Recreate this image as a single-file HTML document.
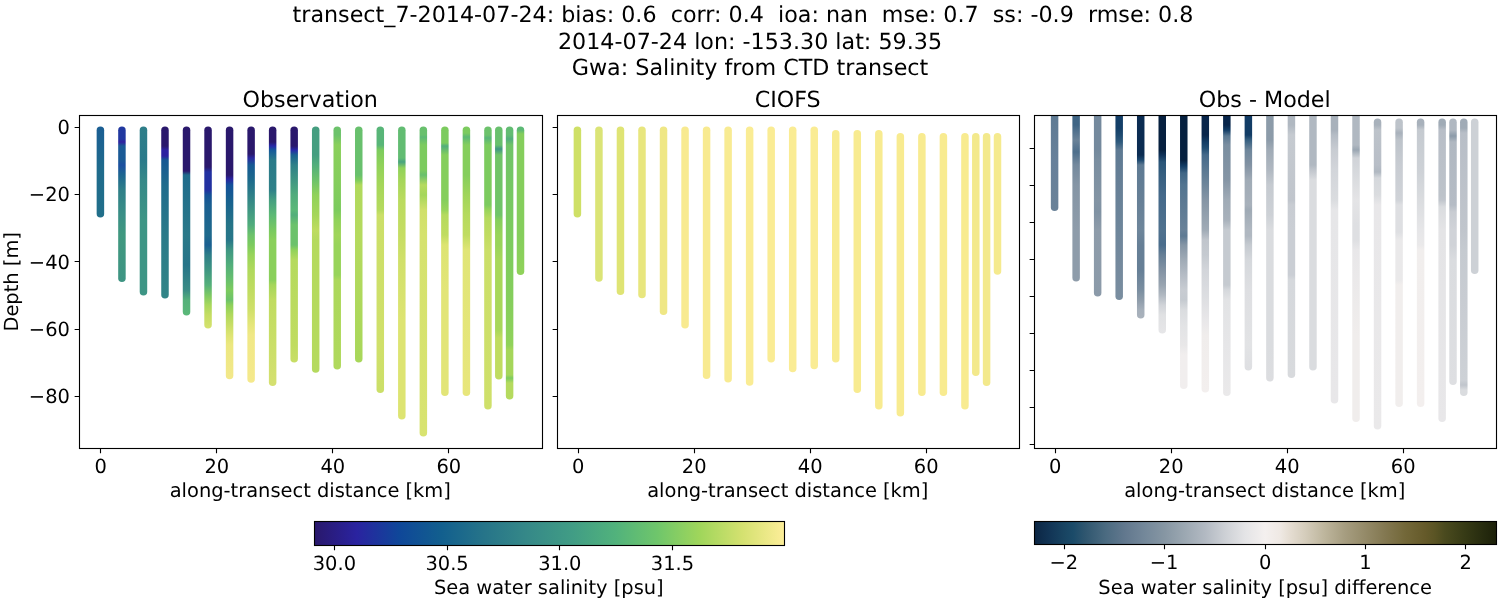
<!DOCTYPE html>
<html lang="en">
<head>
<meta charset="utf-8">
<title>transect_7-2014-07-24 Gwa: Salinity from CTD transect</title>
<style>
html,body{margin:0;padding:0;background:#fff;}
body{width:1500px;height:600px;overflow:hidden;}
svg{display:block;will-change:transform;}
svg text{font-family:"DejaVu Sans","Liberation Sans",sans-serif;fill:#000;text-rendering:geometricPrecision;}
</style>
</head>
<body>
<svg width="1500" height="600" viewBox="0 0 1500 600">
<defs>
<clipPath id="clip0"><rect x="79.5" y="115.5" width="463" height="333"/></clipPath>
<linearGradient id="g0_0" gradientUnits="userSpaceOnUse" x1="0" y1="126.6" x2="0" y2="217.6"><stop offset="0.0044" stop-color="#1A5E93"/><stop offset="0.4769" stop-color="#1F6B8C"/><stop offset="0.9934" stop-color="#216F8A"/></linearGradient>
<linearGradient id="g0_1" gradientUnits="userSpaceOnUse" x1="0" y1="126.6" x2="0" y2="282"><stop offset="0.0026" stop-color="#2138A0"/><stop offset="0.0798" stop-color="#2138A0"/><stop offset="0.0991" stop-color="#3020A0"/><stop offset="0.1248" stop-color="#1A5A96"/><stop offset="0.2149" stop-color="#1A5A96"/><stop offset="0.2471" stop-color="#1C4FA0"/><stop offset="0.3115" stop-color="#1D6690"/><stop offset="0.408" stop-color="#2F7F88"/><stop offset="0.5689" stop-color="#3A8F86"/><stop offset="0.6976" stop-color="#40987F"/><stop offset="1" stop-color="#3E9483"/></linearGradient>
<linearGradient id="g0_2" gradientUnits="userSpaceOnUse" x1="0" y1="126.6" x2="0" y2="295.4"><stop offset="0.0024" stop-color="#2E7E89"/><stop offset="0.1979" stop-color="#2A7A8A"/><stop offset="0.3164" stop-color="#358888"/><stop offset="0.5533" stop-color="#3D9585"/><stop offset="0.9976" stop-color="#3D9585"/></linearGradient>
<linearGradient id="g0_3" gradientUnits="userSpaceOnUse" x1="0" y1="126.6" x2="0" y2="298.6"><stop offset="0.0023" stop-color="#2A186C"/><stop offset="0.1128" stop-color="#2A186C"/><stop offset="0.136" stop-color="#2D22A0"/><stop offset="0.1709" stop-color="#2D22A0"/><stop offset="0.1942" stop-color="#165893"/><stop offset="0.3395" stop-color="#1F6B8C"/><stop offset="0.6302" stop-color="#2A7A89"/><stop offset="0.9965" stop-color="#328587"/></linearGradient>
<linearGradient id="g0_4" gradientUnits="userSpaceOnUse" x1="0" y1="126.6" x2="0" y2="315.4"><stop offset="0.0021" stop-color="#2A186C"/><stop offset="0.2352" stop-color="#2A186C"/><stop offset="0.2564" stop-color="#1F6B8C"/><stop offset="0.5742" stop-color="#2A7989"/><stop offset="0.7331" stop-color="#267488"/><stop offset="0.8655" stop-color="#3A8C85"/><stop offset="0.9184" stop-color="#55B07A"/><stop offset="0.9979" stop-color="#5AB878"/></linearGradient>
<linearGradient id="g0_5" gradientUnits="userSpaceOnUse" x1="0" y1="126.6" x2="0" y2="328.6"><stop offset="0.002" stop-color="#2A186C"/><stop offset="0.2" stop-color="#2A186C"/><stop offset="0.2248" stop-color="#2230A0"/><stop offset="0.3139" stop-color="#2230A0"/><stop offset="0.3386" stop-color="#145096"/><stop offset="0.3881" stop-color="#1A5F91"/><stop offset="0.5366" stop-color="#1F6A8C"/><stop offset="0.5861" stop-color="#1A5F91"/><stop offset="0.6356" stop-color="#2E7E88"/><stop offset="0.7099" stop-color="#3F9682"/><stop offset="0.7842" stop-color="#55B07A"/><stop offset="0.8337" stop-color="#7CC863"/><stop offset="0.8832" stop-color="#A8D85C"/><stop offset="0.9327" stop-color="#C5DD62"/><stop offset="0.997" stop-color="#D5E26E"/></linearGradient>
<linearGradient id="g0_6" gradientUnits="userSpaceOnUse" x1="0" y1="126.6" x2="0" y2="379.2"><stop offset="0.0016" stop-color="#2A186C"/><stop offset="0.1916" stop-color="#2A186C"/><stop offset="0.2074" stop-color="#2A22A0"/><stop offset="0.2312" stop-color="#13509A"/><stop offset="0.2906" stop-color="#17608F"/><stop offset="0.3895" stop-color="#257487"/><stop offset="0.4489" stop-color="#277689"/><stop offset="0.4885" stop-color="#3F9683"/><stop offset="0.5479" stop-color="#52AE7B"/><stop offset="0.6073" stop-color="#68C06D"/><stop offset="0.6469" stop-color="#7CCB5E"/><stop offset="0.6865" stop-color="#6CC26B"/><stop offset="0.7063" stop-color="#8CD05A"/><stop offset="0.7458" stop-color="#B0D95C"/><stop offset="0.7854" stop-color="#C8DE66"/><stop offset="0.825" stop-color="#DDE472"/><stop offset="0.8646" stop-color="#ECE780"/><stop offset="0.9992" stop-color="#F3E88A"/></linearGradient>
<linearGradient id="g0_7" gradientUnits="userSpaceOnUse" x1="0" y1="126.6" x2="0" y2="382.8"><stop offset="0.0016" stop-color="#2A186C"/><stop offset="0.1069" stop-color="#2A186C"/><stop offset="0.1226" stop-color="#2A28A0"/><stop offset="0.1499" stop-color="#165993"/><stop offset="0.2084" stop-color="#1D6A8C"/><stop offset="0.267" stop-color="#2E7F88"/><stop offset="0.3255" stop-color="#3F9683"/><stop offset="0.3841" stop-color="#50AC7C"/><stop offset="0.4231" stop-color="#6CC26B"/><stop offset="0.4621" stop-color="#7CCB5E"/><stop offset="0.5012" stop-color="#98D45A"/><stop offset="0.5597" stop-color="#B0D95C"/><stop offset="0.6378" stop-color="#C0DC60"/><stop offset="0.7158" stop-color="#D0E06A"/><stop offset="0.7744" stop-color="#E5E67A"/><stop offset="0.8134" stop-color="#F0E886"/><stop offset="1" stop-color="#F5E98C"/></linearGradient>
<linearGradient id="g0_8" gradientUnits="userSpaceOnUse" x1="0" y1="126.6" x2="0" y2="386"><stop offset="0.0015" stop-color="#2A186C"/><stop offset="0.0594" stop-color="#2A186C"/><stop offset="0.0748" stop-color="#2828A8"/><stop offset="0.0902" stop-color="#15589A"/><stop offset="0.1288" stop-color="#2A7A89"/><stop offset="0.2444" stop-color="#2F8088"/><stop offset="0.283" stop-color="#459E80"/><stop offset="0.3408" stop-color="#5CB975"/><stop offset="0.4063" stop-color="#7CCB5E"/><stop offset="0.4372" stop-color="#8AD05B"/><stop offset="0.5914" stop-color="#8AD05B"/><stop offset="0.6106" stop-color="#A5D65A"/><stop offset="0.6685" stop-color="#C0DC60"/><stop offset="0.8419" stop-color="#CADF68"/><stop offset="1" stop-color="#D5E070"/></linearGradient>
<linearGradient id="g0_9" gradientUnits="userSpaceOnUse" x1="0" y1="126.6" x2="0" y2="362.6"><stop offset="0.0017" stop-color="#2A186C"/><stop offset="0.0822" stop-color="#2A186C"/><stop offset="0.0992" stop-color="#2828A8"/><stop offset="0.1203" stop-color="#1A6090"/><stop offset="0.1627" stop-color="#2F8088"/><stop offset="0.2263" stop-color="#3F9683"/><stop offset="0.2898" stop-color="#50AC7C"/><stop offset="0.3534" stop-color="#5AB878"/><stop offset="0.3746" stop-color="#52AE7B"/><stop offset="0.4169" stop-color="#6CC26B"/><stop offset="0.5017" stop-color="#6CC26B"/><stop offset="0.5229" stop-color="#90D25A"/><stop offset="0.5653" stop-color="#B5DA5E"/><stop offset="0.9254" stop-color="#C0DC60"/><stop offset="0.9975" stop-color="#C8DE66"/></linearGradient>
<linearGradient id="g0_10" gradientUnits="userSpaceOnUse" x1="0" y1="126.6" x2="0" y2="372.8"><stop offset="0.0016" stop-color="#459E80"/><stop offset="0.1154" stop-color="#459E80"/><stop offset="0.156" stop-color="#52AE7B"/><stop offset="0.2169" stop-color="#6CC26B"/><stop offset="0.2778" stop-color="#90D25A"/><stop offset="0.3591" stop-color="#A5D65A"/><stop offset="0.42" stop-color="#BEDC60"/><stop offset="0.4606" stop-color="#B5DA5E"/><stop offset="0.9968" stop-color="#B5DA5E"/></linearGradient>
<linearGradient id="g0_11" gradientUnits="userSpaceOnUse" x1="0" y1="126.6" x2="0" y2="369.4"><stop offset="0.0016" stop-color="#6CC26B"/><stop offset="0.0346" stop-color="#6CC26B"/><stop offset="0.0758" stop-color="#8AD05B"/><stop offset="0.2199" stop-color="#85CE5C"/><stop offset="0.3435" stop-color="#7CCB5E"/><stop offset="0.3847" stop-color="#90D25A"/><stop offset="0.4465" stop-color="#A0D55A"/><stop offset="0.4876" stop-color="#98D45A"/><stop offset="0.6112" stop-color="#98D45A"/><stop offset="0.6318" stop-color="#ACD85B"/><stop offset="0.9984" stop-color="#B0D95C"/></linearGradient>
<linearGradient id="g0_12" gradientUnits="userSpaceOnUse" x1="0" y1="126.6" x2="0" y2="362.6"><stop offset="0.0017" stop-color="#68C06D"/><stop offset="0.2051" stop-color="#68C06D"/><stop offset="0.2263" stop-color="#7CCB5E"/><stop offset="0.2475" stop-color="#B0D95C"/><stop offset="0.4593" stop-color="#B5DA5E"/><stop offset="0.9975" stop-color="#A8D75A"/></linearGradient>
<linearGradient id="g0_13" gradientUnits="userSpaceOnUse" x1="0" y1="126.6" x2="0" y2="393"><stop offset="0.0015" stop-color="#58B578"/><stop offset="0.0691" stop-color="#58B578"/><stop offset="0.0878" stop-color="#7CCB5E"/><stop offset="0.1441" stop-color="#90D25A"/><stop offset="0.2192" stop-color="#A5D65A"/><stop offset="0.3131" stop-color="#B5DA5E"/><stop offset="0.3318" stop-color="#CBDF68"/><stop offset="0.8198" stop-color="#D0E06A"/><stop offset="1" stop-color="#CBDF68"/></linearGradient>
<linearGradient id="g0_14" gradientUnits="userSpaceOnUse" x1="0" y1="126.6" x2="0" y2="419.6"><stop offset="0.0014" stop-color="#62BC72"/><stop offset="0.1072" stop-color="#62BC72"/><stop offset="0.1208" stop-color="#48A37F"/><stop offset="0.1413" stop-color="#90D25A"/><stop offset="0.1823" stop-color="#A5D65A"/><stop offset="0.2505" stop-color="#BADB5F"/><stop offset="0.37" stop-color="#C5DD63"/><stop offset="0.4553" stop-color="#D0E06A"/><stop offset="0.6601" stop-color="#DDE472"/><stop offset="0.998" stop-color="#DDE472"/></linearGradient>
<linearGradient id="g0_15" gradientUnits="userSpaceOnUse" x1="0" y1="126.6" x2="0" y2="436.4"><stop offset="0.0013" stop-color="#68C06D"/><stop offset="0.0271" stop-color="#68C06D"/><stop offset="0.0336" stop-color="#5CB975"/><stop offset="0.0594" stop-color="#7CCB5E"/><stop offset="0.1401" stop-color="#7CCB5E"/><stop offset="0.1562" stop-color="#68C06D"/><stop offset="0.1885" stop-color="#B5DA5E"/><stop offset="0.2208" stop-color="#A5D65A"/><stop offset="0.2692" stop-color="#D0E06A"/><stop offset="0.3499" stop-color="#D5E26E"/><stop offset="0.9987" stop-color="#D8E370"/></linearGradient>
<linearGradient id="g0_16" gradientUnits="userSpaceOnUse" x1="0" y1="126.6" x2="0" y2="396"><stop offset="0.0015" stop-color="#7CCB5E"/><stop offset="0.0609" stop-color="#7CCB5E"/><stop offset="0.072" stop-color="#52AE7B"/><stop offset="0.1054" stop-color="#85CE5C"/><stop offset="0.2725" stop-color="#85CE5C"/><stop offset="0.3096" stop-color="#98D45A"/><stop offset="0.3281" stop-color="#B5DA5E"/><stop offset="0.4024" stop-color="#C0DC60"/><stop offset="0.4395" stop-color="#DDE472"/><stop offset="0.6065" stop-color="#E2E578"/><stop offset="1" stop-color="#E2E578"/></linearGradient>
<linearGradient id="g0_17" gradientUnits="userSpaceOnUse" x1="0" y1="126.6" x2="0" y2="396"><stop offset="0.0015" stop-color="#7CCB5E"/><stop offset="0.0238" stop-color="#7CCB5E"/><stop offset="0.0386" stop-color="#5CB975"/><stop offset="0.0683" stop-color="#85CE5C"/><stop offset="0.1797" stop-color="#85CE5C"/><stop offset="0.2539" stop-color="#A0D55A"/><stop offset="0.3281" stop-color="#B5DA5E"/><stop offset="0.4024" stop-color="#C0DC60"/><stop offset="0.4581" stop-color="#E0E576"/><stop offset="1" stop-color="#E8E67C"/></linearGradient>
<linearGradient id="g0_18" gradientUnits="userSpaceOnUse" x1="0" y1="126.6" x2="0" y2="409.6"><stop offset="0.0014" stop-color="#6CC26B"/><stop offset="0.0297" stop-color="#6CC26B"/><stop offset="0.0403" stop-color="#58B578"/><stop offset="0.065" stop-color="#7CCB5E"/><stop offset="0.277" stop-color="#7CCB5E"/><stop offset="0.2947" stop-color="#98D45A"/><stop offset="0.323" stop-color="#B5DA5E"/><stop offset="0.383" stop-color="#C0DC60"/><stop offset="0.436" stop-color="#CBDF68"/><stop offset="0.9979" stop-color="#CFE06A"/></linearGradient>
<linearGradient id="g0_19" gradientUnits="userSpaceOnUse" x1="0" y1="126.6" x2="0" y2="379.4"><stop offset="0.0016" stop-color="#68C06D"/><stop offset="0.0728" stop-color="#68C06D"/><stop offset="0.0886" stop-color="#3F9683"/><stop offset="0.1123" stop-color="#70C468"/><stop offset="0.3497" stop-color="#70C468"/><stop offset="0.3695" stop-color="#85CE5C"/><stop offset="0.4288" stop-color="#98D45A"/><stop offset="0.4684" stop-color="#98D45A"/><stop offset="0.5277" stop-color="#A8D75A"/><stop offset="0.8046" stop-color="#A8D75A"/><stop offset="0.8362" stop-color="#C0DC60"/><stop offset="0.9984" stop-color="#C0DC60"/></linearGradient>
<linearGradient id="g0_20" gradientUnits="userSpaceOnUse" x1="0" y1="126.6" x2="0" y2="399.6"><stop offset="0.0015" stop-color="#62BC72"/><stop offset="0.0308" stop-color="#62BC72"/><stop offset="0.0454" stop-color="#52AE7B"/><stop offset="0.0674" stop-color="#70C468"/><stop offset="0.3971" stop-color="#7CCB5E"/><stop offset="0.6352" stop-color="#85CE5C"/><stop offset="0.8" stop-color="#90D25A"/><stop offset="0.8183" stop-color="#A5D65A"/><stop offset="0.9099" stop-color="#A5D65A"/><stop offset="0.9209" stop-color="#7CCB5E"/><stop offset="0.9392" stop-color="#B5DA5E"/><stop offset="0.9978" stop-color="#B5DA5E"/></linearGradient>
<linearGradient id="g0_21" gradientUnits="userSpaceOnUse" x1="0" y1="126.6" x2="0" y2="275"><stop offset="0.0027" stop-color="#5CB975"/><stop offset="0.0229" stop-color="#5CB975"/><stop offset="0.0499" stop-color="#85CE5C"/><stop offset="0.7305" stop-color="#85CE5C"/><stop offset="1" stop-color="#90D25A"/></linearGradient>
<clipPath id="clip1"><rect x="557.5" y="115.5" width="462" height="333"/></clipPath>
<clipPath id="clip2"><rect x="1034.5" y="115.5" width="462" height="333"/></clipPath>
<linearGradient id="g2_0" gradientUnits="userSpaceOnUse" x1="0" y1="108" x2="0" y2="211"><stop offset="0.0777" stop-color="#5F7B94"/><stop offset="0.5049" stop-color="#67809A"/><stop offset="1" stop-color="#6A8298"/></linearGradient>
<linearGradient id="g2_1" gradientUnits="userSpaceOnUse" x1="0" y1="108" x2="0" y2="281.6"><stop offset="0.0461" stop-color="#3F6585"/><stop offset="0.0979" stop-color="#3F6585"/><stop offset="0.1267" stop-color="#4E6F8C"/><stop offset="0.1843" stop-color="#6A8298"/><stop offset="0.2535" stop-color="#4E6F8C"/><stop offset="0.3283" stop-color="#74899D"/><stop offset="0.4435" stop-color="#8595A5"/><stop offset="0.7028" stop-color="#8E9CAA"/><stop offset="0.9965" stop-color="#8E9CAA"/></linearGradient>
<linearGradient id="g2_2" gradientUnits="userSpaceOnUse" x1="0" y1="108" x2="0" y2="296.4"><stop offset="0.0425" stop-color="#74899D"/><stop offset="0.2229" stop-color="#74899D"/><stop offset="0.276" stop-color="#7A8EA0"/><stop offset="0.4883" stop-color="#8394A4"/><stop offset="0.552" stop-color="#8092A3"/><stop offset="0.6476" stop-color="#8E9CAA"/><stop offset="0.9979" stop-color="#8B9AA9"/></linearGradient>
<linearGradient id="g2_3" gradientUnits="userSpaceOnUse" x1="0" y1="108" x2="0" y2="300"><stop offset="0.0417" stop-color="#143F68"/><stop offset="0.1042" stop-color="#143F68"/><stop offset="0.1406" stop-color="#1E4A70"/><stop offset="0.1771" stop-color="#2F5A7D"/><stop offset="0.2188" stop-color="#5E7A93"/><stop offset="0.375" stop-color="#667F96"/><stop offset="0.6354" stop-color="#6E869B"/><stop offset="0.7917" stop-color="#74899D"/><stop offset="1" stop-color="#7A8EA0"/></linearGradient>
<linearGradient id="g2_4" gradientUnits="userSpaceOnUse" x1="0" y1="108" x2="0" y2="318.6"><stop offset="0.038" stop-color="#0B2C52"/><stop offset="0.2232" stop-color="#0B2C52"/><stop offset="0.2469" stop-color="#1C486F"/><stop offset="0.2707" stop-color="#5E7A93"/><stop offset="0.4368" stop-color="#667F96"/><stop offset="0.5793" stop-color="#6E869B"/><stop offset="0.6505" stop-color="#667F96"/><stop offset="0.7692" stop-color="#667F96"/><stop offset="0.8642" stop-color="#7A8EA0"/><stop offset="0.9117" stop-color="#8E9CAA"/><stop offset="0.9592" stop-color="#A5AFBA"/><stop offset="0.9972" stop-color="#A9B2BC"/></linearGradient>
<linearGradient id="g2_5" gradientUnits="userSpaceOnUse" x1="0" y1="108" x2="0" y2="333.4"><stop offset="0.0355" stop-color="#06203F"/><stop offset="0.1863" stop-color="#06203F"/><stop offset="0.2085" stop-color="#0F3158"/><stop offset="0.2396" stop-color="#2A5578"/><stop offset="0.2972" stop-color="#365F80"/><stop offset="0.386" stop-color="#44698A"/><stop offset="0.5413" stop-color="#4F718E"/><stop offset="0.6078" stop-color="#4A6D8C"/><stop offset="0.6522" stop-color="#667F96"/><stop offset="0.7187" stop-color="#8292A3"/><stop offset="0.7853" stop-color="#98A4B0"/><stop offset="0.8296" stop-color="#B0B8C1"/><stop offset="0.874" stop-color="#D0D3D8"/><stop offset="0.9184" stop-color="#E0E1E3"/><stop offset="0.9982" stop-color="#E6E6E8"/></linearGradient>
<linearGradient id="g2_6" gradientUnits="userSpaceOnUse" x1="0" y1="108" x2="0" y2="389"><stop offset="0.0285" stop-color="#06203F"/><stop offset="0.1851" stop-color="#06203F"/><stop offset="0.2064" stop-color="#123C65"/><stop offset="0.2313" stop-color="#3F6585"/><stop offset="0.274" stop-color="#527490"/><stop offset="0.3274" stop-color="#5A7892"/><stop offset="0.4342" stop-color="#688198"/><stop offset="0.4555" stop-color="#5E7A93"/><stop offset="0.4875" stop-color="#8595A5"/><stop offset="0.5409" stop-color="#A0ABB6"/><stop offset="0.5943" stop-color="#B5BCC5"/><stop offset="0.6477" stop-color="#C8CCD2"/><stop offset="0.6833" stop-color="#C5CAD0"/><stop offset="0.7189" stop-color="#DADCDF"/><stop offset="0.7722" stop-color="#E2E3E5"/><stop offset="0.8434" stop-color="#E8E7E8"/><stop offset="0.879" stop-color="#F1EEEE"/><stop offset="1" stop-color="#F1EEEE"/></linearGradient>
<linearGradient id="g2_7" gradientUnits="userSpaceOnUse" x1="0" y1="108" x2="0" y2="392.6"><stop offset="0.0281" stop-color="#08254A"/><stop offset="0.0949" stop-color="#08254A"/><stop offset="0.1195" stop-color="#123C65"/><stop offset="0.1405" stop-color="#1F4C72"/><stop offset="0.1651" stop-color="#44698A"/><stop offset="0.2178" stop-color="#5A7892"/><stop offset="0.2706" stop-color="#6E869B"/><stop offset="0.3233" stop-color="#8595A5"/><stop offset="0.4287" stop-color="#A0ABB6"/><stop offset="0.4638" stop-color="#C0C5CC"/><stop offset="0.5165" stop-color="#C5CAD0"/><stop offset="0.5692" stop-color="#D2D5DA"/><stop offset="0.6746" stop-color="#DEDFE2"/><stop offset="0.7449" stop-color="#E8E7E9"/><stop offset="0.7976" stop-color="#F0EDEC"/><stop offset="0.9979" stop-color="#F3EFEE"/></linearGradient>
<linearGradient id="g2_8" gradientUnits="userSpaceOnUse" x1="0" y1="108" x2="0" y2="396"><stop offset="0.0278" stop-color="#08254A"/><stop offset="0.059" stop-color="#08254A"/><stop offset="0.0764" stop-color="#123C65"/><stop offset="0.0972" stop-color="#5A7892"/><stop offset="0.1285" stop-color="#7A8EA0"/><stop offset="0.25" stop-color="#8595A5"/><stop offset="0.3194" stop-color="#A0ABB6"/><stop offset="0.3889" stop-color="#A8B1BB"/><stop offset="0.4236" stop-color="#C5CAD0"/><stop offset="0.6146" stop-color="#C5CAD0"/><stop offset="0.6319" stop-color="#D5D8DC"/><stop offset="0.6667" stop-color="#E2E3E5"/><stop offset="0.8229" stop-color="#E6E6E8"/><stop offset="1" stop-color="#EAE9EA"/></linearGradient>
<linearGradient id="g2_9" gradientUnits="userSpaceOnUse" x1="0" y1="108" x2="0" y2="370.4"><stop offset="0.0305" stop-color="#123C65"/><stop offset="0.1029" stop-color="#123C65"/><stop offset="0.122" stop-color="#365F80"/><stop offset="0.1601" stop-color="#6E869B"/><stop offset="0.2172" stop-color="#8292A3"/><stop offset="0.2744" stop-color="#A0ABB6"/><stop offset="0.3697" stop-color="#A8B1BB"/><stop offset="0.3887" stop-color="#9FAAB5"/><stop offset="0.4649" stop-color="#B0B8C1"/><stop offset="0.4878" stop-color="#B0B8C1"/><stop offset="0.5221" stop-color="#C5CAD0"/><stop offset="0.5793" stop-color="#D5D8DC"/><stop offset="0.6936" stop-color="#DEDFE2"/><stop offset="0.9032" stop-color="#E2E3E5"/><stop offset="0.9985" stop-color="#DEDFE2"/></linearGradient>
<linearGradient id="g2_10" gradientUnits="userSpaceOnUse" x1="0" y1="108" x2="0" y2="381.6"><stop offset="0.0292" stop-color="#8C9BA9"/><stop offset="0.117" stop-color="#8C9BA9"/><stop offset="0.1535" stop-color="#A0ABB6"/><stop offset="0.2266" stop-color="#B0B8C1"/><stop offset="0.2814" stop-color="#C5CAD0"/><stop offset="0.3911" stop-color="#CDD1D6"/><stop offset="0.4459" stop-color="#DADCDF"/><stop offset="0.8662" stop-color="#DADCDF"/><stop offset="0.9978" stop-color="#DCDDE0"/></linearGradient>
<linearGradient id="g2_11" gradientUnits="userSpaceOnUse" x1="0" y1="108" x2="0" y2="378"><stop offset="0.0296" stop-color="#B0B8C1"/><stop offset="0.063" stop-color="#B0B8C1"/><stop offset="0.1" stop-color="#C5CAD0"/><stop offset="0.3407" stop-color="#C0C5CC"/><stop offset="0.3593" stop-color="#C8CCD2"/><stop offset="0.4519" stop-color="#CACED4"/><stop offset="0.6185" stop-color="#CACED4"/><stop offset="0.637" stop-color="#D5D8DC"/><stop offset="1" stop-color="#D8DADD"/></linearGradient>
<linearGradient id="g2_12" gradientUnits="userSpaceOnUse" x1="0" y1="108" x2="0" y2="370.4"><stop offset="0.0305" stop-color="#B0B8C1"/><stop offset="0.2172" stop-color="#B0B8C1"/><stop offset="0.2363" stop-color="#C0C5CC"/><stop offset="0.2744" stop-color="#DADCDF"/><stop offset="0.9985" stop-color="#DADCDF"/></linearGradient>
<linearGradient id="g2_13" gradientUnits="userSpaceOnUse" x1="0" y1="108" x2="0" y2="403.6"><stop offset="0.0271" stop-color="#A8B1BB"/><stop offset="0.0744" stop-color="#A8B1BB"/><stop offset="0.0913" stop-color="#B5BCC5"/><stop offset="0.1421" stop-color="#C8CCD2"/><stop offset="0.2097" stop-color="#D2D5DA"/><stop offset="0.3112" stop-color="#DADCDF"/><stop offset="0.3451" stop-color="#E6E6E8"/><stop offset="0.998" stop-color="#E8E7E9"/></linearGradient>
<linearGradient id="g2_14" gradientUnits="userSpaceOnUse" x1="0" y1="108" x2="0" y2="422"><stop offset="0.0255" stop-color="#B0B8C1"/><stop offset="0.1178" stop-color="#B0B8C1"/><stop offset="0.1338" stop-color="#9AA6B2"/><stop offset="0.1592" stop-color="#D0D3D8"/><stop offset="0.2293" stop-color="#DADCDF"/><stop offset="0.293" stop-color="#E4E4E6"/><stop offset="0.3726" stop-color="#DEDFE2"/><stop offset="0.4204" stop-color="#DEDFE2"/><stop offset="0.4522" stop-color="#E8E7E9"/><stop offset="0.7229" stop-color="#F0EDEC"/><stop offset="1" stop-color="#F0EDEC"/></linearGradient>
<linearGradient id="g2_15" gradientUnits="userSpaceOnUse" x1="0" y1="118.6" x2="0" y2="429.4"><stop offset="0.0013" stop-color="#A8B1BB"/><stop offset="0.0206" stop-color="#A8B1BB"/><stop offset="0.0367" stop-color="#BDC3CA"/><stop offset="0.1493" stop-color="#B8BEC7"/><stop offset="0.1718" stop-color="#B0B8C1"/><stop offset="0.1911" stop-color="#D5D8DC"/><stop offset="0.2458" stop-color="#DADCDF"/><stop offset="0.278" stop-color="#E8E7E9"/><stop offset="0.9987" stop-color="#EAE9EA"/></linearGradient>
<linearGradient id="g2_16" gradientUnits="userSpaceOnUse" x1="0" y1="118.6" x2="0" y2="407"><stop offset="0.0014" stop-color="#BDC3CA"/><stop offset="0.0326" stop-color="#BDC3CA"/><stop offset="0.0499" stop-color="#A8B1BB"/><stop offset="0.0742" stop-color="#BDC3CA"/><stop offset="0.1609" stop-color="#C8CCD2"/><stop offset="0.2822" stop-color="#D0D3D8"/><stop offset="0.2996" stop-color="#DEDFE2"/><stop offset="0.3932" stop-color="#DEDFE2"/><stop offset="0.4209" stop-color="#EAE9EA"/><stop offset="0.5596" stop-color="#EAE9EA"/><stop offset="0.577" stop-color="#F1EEED"/><stop offset="1" stop-color="#F1EEED"/></linearGradient>
<linearGradient id="g2_17" gradientUnits="userSpaceOnUse" x1="0" y1="118.6" x2="0" y2="407"><stop offset="0.0014" stop-color="#A8B1BB"/><stop offset="0.0222" stop-color="#A8B1BB"/><stop offset="0.0395" stop-color="#C5CAD0"/><stop offset="0.1782" stop-color="#CDD1D6"/><stop offset="0.2822" stop-color="#DADCDF"/><stop offset="0.3863" stop-color="#E6E6E8"/><stop offset="0.4383" stop-color="#EAE9EA"/><stop offset="0.4556" stop-color="#F1EEED"/><stop offset="1" stop-color="#F3EFEE"/></linearGradient>
<linearGradient id="g2_18" gradientUnits="userSpaceOnUse" x1="0" y1="118.6" x2="0" y2="422"><stop offset="0.0013" stop-color="#A0ABB6"/><stop offset="0.0211" stop-color="#A0ABB6"/><stop offset="0.0376" stop-color="#B8BEC7"/><stop offset="0.2518" stop-color="#BDC3CA"/><stop offset="0.2683" stop-color="#C0C5CC"/><stop offset="0.2914" stop-color="#DADCDF"/><stop offset="0.3672" stop-color="#E4E4E6"/><stop offset="1" stop-color="#E8E7E9"/></linearGradient>
<linearGradient id="g2_19" gradientUnits="userSpaceOnUse" x1="0" y1="118.6" x2="0" y2="385"><stop offset="0.0015" stop-color="#B0B8C1"/><stop offset="0.0428" stop-color="#B0B8C1"/><stop offset="0.0653" stop-color="#8C9BA9"/><stop offset="0.0878" stop-color="#B0B8C1"/><stop offset="0.3243" stop-color="#B5BCC5"/><stop offset="0.3506" stop-color="#C8CCD2"/><stop offset="0.4182" stop-color="#D0D3D8"/><stop offset="0.4745" stop-color="#D0D3D8"/><stop offset="0.5308" stop-color="#DADCDF"/><stop offset="1" stop-color="#DEDFE2"/></linearGradient>
<linearGradient id="g2_20" gradientUnits="userSpaceOnUse" x1="0" y1="118.6" x2="0" y2="396"><stop offset="0.0014" stop-color="#A0ABB6"/><stop offset="0.0339" stop-color="#A0ABB6"/><stop offset="0.0519" stop-color="#B8BEC7"/><stop offset="0.4016" stop-color="#C0C5CC"/><stop offset="0.4737" stop-color="#C5CAD0"/><stop offset="0.6539" stop-color="#C8CCD2"/><stop offset="0.9423" stop-color="#CDD1D6"/><stop offset="0.9603" stop-color="#C0C5CC"/><stop offset="0.9784" stop-color="#DADCDF"/><stop offset="1" stop-color="#DADCDF"/></linearGradient>
<linearGradient id="hal" x1="0" y1="0" x2="1" y2="0"><stop offset="0" stop-color="#29186B"/><stop offset="0.09" stop-color="#2A23A0"/><stop offset="0.18" stop-color="#0F4799"/><stop offset="0.27" stop-color="#125F8E"/><stop offset="0.36" stop-color="#267489"/><stop offset="0.45" stop-color="#358888"/><stop offset="0.55" stop-color="#419D85"/><stop offset="0.64" stop-color="#51B27C"/><stop offset="0.73" stop-color="#6FC66B"/><stop offset="0.82" stop-color="#A0D65B"/><stop offset="0.91" stop-color="#D4E170"/><stop offset="1" stop-color="#FDEE99"/></linearGradient>
<linearGradient id="dif" x1="0" y1="0" x2="1" y2="0"><stop offset="0" stop-color="#0C2644"/><stop offset="0.0339" stop-color="#123556"/><stop offset="0.0653" stop-color="#184462"/><stop offset="0.0837" stop-color="#1B4B69"/><stop offset="0.1096" stop-color="#2F566F"/><stop offset="0.1529" stop-color="#4A6A80"/><stop offset="0.1961" stop-color="#62788E"/><stop offset="0.2394" stop-color="#74889A"/><stop offset="0.2815" stop-color="#8696A3"/><stop offset="0.3258" stop-color="#9CA8B2"/><stop offset="0.3691" stop-color="#B2B9C2"/><stop offset="0.4123" stop-color="#CDD0D5"/><stop offset="0.4556" stop-color="#E4E4E6"/><stop offset="0.4988" stop-color="#F4F0EF"/><stop offset="0.5312" stop-color="#EFE9E4"/><stop offset="0.5529" stop-color="#E5DDD2"/><stop offset="0.5853" stop-color="#D5CDBC"/><stop offset="0.6285" stop-color="#BDB59C"/><stop offset="0.6718" stop-color="#A69D80"/><stop offset="0.7161" stop-color="#948A68"/><stop offset="0.7583" stop-color="#837851"/><stop offset="0.8015" stop-color="#736839"/><stop offset="0.8448" stop-color="#655A2A"/><stop offset="0.8664" stop-color="#5A5424"/><stop offset="0.888" stop-color="#4A4A1E"/><stop offset="0.9323" stop-color="#363A15"/><stop offset="0.9745" stop-color="#252A0E"/><stop offset="1" stop-color="#1C2009"/></linearGradient>
</defs>
<rect x="0" y="0" width="1500" height="600" fill="#fff"/>
<g id="scatter">
<g clip-path="url(#clip0)">
<rect x="96.65" y="126.6" width="7.5" height="91" rx="3.75" ry="3.75" fill="url(#g0_0)"/>
<rect x="118.18" y="126.6" width="7.5" height="155.4" rx="3.75" ry="3.75" fill="url(#g0_1)"/>
<rect x="139.71" y="126.6" width="7.5" height="168.8" rx="3.75" ry="3.75" fill="url(#g0_2)"/>
<rect x="161.24" y="126.6" width="7.5" height="172" rx="3.75" ry="3.75" fill="url(#g0_3)"/>
<rect x="182.77" y="126.6" width="7.5" height="188.8" rx="3.75" ry="3.75" fill="url(#g0_4)"/>
<rect x="204.3" y="126.6" width="7.5" height="202" rx="3.75" ry="3.75" fill="url(#g0_5)"/>
<rect x="225.83" y="126.6" width="7.5" height="252.6" rx="3.75" ry="3.75" fill="url(#g0_6)"/>
<rect x="247.36" y="126.6" width="7.5" height="256.2" rx="3.75" ry="3.75" fill="url(#g0_7)"/>
<rect x="268.89" y="126.6" width="7.5" height="259.4" rx="3.75" ry="3.75" fill="url(#g0_8)"/>
<rect x="290.42" y="126.6" width="7.5" height="236" rx="3.75" ry="3.75" fill="url(#g0_9)"/>
<rect x="311.95" y="126.6" width="7.5" height="246.2" rx="3.75" ry="3.75" fill="url(#g0_10)"/>
<rect x="333.48" y="126.6" width="7.5" height="242.8" rx="3.75" ry="3.75" fill="url(#g0_11)"/>
<rect x="355.01" y="126.6" width="7.5" height="236" rx="3.75" ry="3.75" fill="url(#g0_12)"/>
<rect x="376.54" y="126.6" width="7.5" height="266.4" rx="3.75" ry="3.75" fill="url(#g0_13)"/>
<rect x="398.07" y="126.6" width="7.5" height="293" rx="3.75" ry="3.75" fill="url(#g0_14)"/>
<rect x="419.6" y="126.6" width="7.5" height="309.8" rx="3.75" ry="3.75" fill="url(#g0_15)"/>
<rect x="441.13" y="126.6" width="7.5" height="269.4" rx="3.75" ry="3.75" fill="url(#g0_16)"/>
<rect x="462.66" y="126.6" width="7.5" height="269.4" rx="3.75" ry="3.75" fill="url(#g0_17)"/>
<rect x="484.19" y="126.6" width="7.5" height="283" rx="3.75" ry="3.75" fill="url(#g0_18)"/>
<rect x="495.05" y="126.6" width="7.5" height="252.8" rx="3.75" ry="3.75" fill="url(#g0_19)"/>
<rect x="505.85" y="126.6" width="7.5" height="273" rx="3.75" ry="3.75" fill="url(#g0_20)"/>
<rect x="516.75" y="126.6" width="7.5" height="148.4" rx="3.75" ry="3.75" fill="url(#g0_21)"/>
</g>
<g clip-path="url(#clip1)">
<rect x="573.65" y="126.5" width="7.5" height="90.9" rx="3.75" ry="3.75" fill="#CFE066"/>
<rect x="595.18" y="126.5" width="7.5" height="155.3" rx="3.75" ry="3.75" fill="#DBE476"/>
<rect x="616.71" y="126.5" width="7.5" height="168.5" rx="3.75" ry="3.75" fill="#DFE474"/>
<rect x="638.24" y="126.5" width="7.5" height="171.7" rx="3.75" ry="3.75" fill="#E8E67E"/>
<rect x="659.77" y="126.5" width="7.5" height="188.5" rx="3.75" ry="3.75" fill="#EFE785"/>
<rect x="681.3" y="126.5" width="7.5" height="202.1" rx="3.75" ry="3.75" fill="#F8EA90"/>
<rect x="702.83" y="126.5" width="7.5" height="252.5" rx="3.75" ry="3.75" fill="#F8EA90"/>
<rect x="724.36" y="126.5" width="7.5" height="255.9" rx="3.75" ry="3.75" fill="#F8EB92"/>
<rect x="745.89" y="126.5" width="7.5" height="259.3" rx="3.75" ry="3.75" fill="#FAEC94"/>
<rect x="767.42" y="126.5" width="7.5" height="235.9" rx="3.75" ry="3.75" fill="#FAEC94"/>
<rect x="788.95" y="126.5" width="7.5" height="245.7" rx="3.75" ry="3.75" fill="#FAEC94"/>
<rect x="810.48" y="126.5" width="7.5" height="242.7" rx="3.75" ry="3.75" fill="#FAEC94"/>
<rect x="832.01" y="129.9" width="7.5" height="232.5" rx="3.75" ry="3.75" fill="#F8EB90"/>
<rect x="853.54" y="129.9" width="7.5" height="263.1" rx="3.75" ry="3.75" fill="#F8EB90"/>
<rect x="875.07" y="129.9" width="7.5" height="279.7" rx="3.75" ry="3.75" fill="#F8EB90"/>
<rect x="896.6" y="133.1" width="7.5" height="283.3" rx="3.75" ry="3.75" fill="#F8EB90"/>
<rect x="918.13" y="133.1" width="7.5" height="262.9" rx="3.75" ry="3.75" fill="#F8EB90"/>
<rect x="939.66" y="133.1" width="7.5" height="262.9" rx="3.75" ry="3.75" fill="#F8EB90"/>
<rect x="961.19" y="133.1" width="7.5" height="276.5" rx="3.75" ry="3.75" fill="#F8EB90"/>
<rect x="972.05" y="133.1" width="7.5" height="242.9" rx="3.75" ry="3.75" fill="#F3E98C"/>
<rect x="982.85" y="133.1" width="7.5" height="252.9" rx="3.75" ry="3.75" fill="#F3E98C"/>
<rect x="993.75" y="133.1" width="7.5" height="141.7" rx="3.75" ry="3.75" fill="#F5EA8E"/>
</g>
<g clip-path="url(#clip2)">
<rect x="1050.85" y="108" width="7.5" height="103" rx="3.75" ry="3.75" fill="url(#g2_0)"/>
<rect x="1072.38" y="108" width="7.5" height="173.6" rx="3.75" ry="3.75" fill="url(#g2_1)"/>
<rect x="1093.91" y="108" width="7.5" height="188.4" rx="3.75" ry="3.75" fill="url(#g2_2)"/>
<rect x="1115.44" y="108" width="7.5" height="192" rx="3.75" ry="3.75" fill="url(#g2_3)"/>
<rect x="1136.97" y="108" width="7.5" height="210.6" rx="3.75" ry="3.75" fill="url(#g2_4)"/>
<rect x="1158.5" y="108" width="7.5" height="225.4" rx="3.75" ry="3.75" fill="url(#g2_5)"/>
<rect x="1180.03" y="108" width="7.5" height="281" rx="3.75" ry="3.75" fill="url(#g2_6)"/>
<rect x="1201.56" y="108" width="7.5" height="284.6" rx="3.75" ry="3.75" fill="url(#g2_7)"/>
<rect x="1223.09" y="108" width="7.5" height="288" rx="3.75" ry="3.75" fill="url(#g2_8)"/>
<rect x="1244.62" y="108" width="7.5" height="262.4" rx="3.75" ry="3.75" fill="url(#g2_9)"/>
<rect x="1266.15" y="108" width="7.5" height="273.6" rx="3.75" ry="3.75" fill="url(#g2_10)"/>
<rect x="1287.68" y="108" width="7.5" height="270" rx="3.75" ry="3.75" fill="url(#g2_11)"/>
<rect x="1309.21" y="108" width="7.5" height="262.4" rx="3.75" ry="3.75" fill="url(#g2_12)"/>
<rect x="1330.74" y="108" width="7.5" height="295.6" rx="3.75" ry="3.75" fill="url(#g2_13)"/>
<rect x="1352.27" y="108" width="7.5" height="314" rx="3.75" ry="3.75" fill="url(#g2_14)"/>
<rect x="1373.8" y="118.6" width="7.5" height="310.8" rx="3.75" ry="3.75" fill="url(#g2_15)"/>
<rect x="1395.33" y="118.6" width="7.5" height="288.4" rx="3.75" ry="3.75" fill="url(#g2_16)"/>
<rect x="1416.86" y="118.6" width="7.5" height="288.4" rx="3.75" ry="3.75" fill="url(#g2_17)"/>
<rect x="1438.39" y="118.6" width="7.5" height="303.4" rx="3.75" ry="3.75" fill="url(#g2_18)"/>
<rect x="1449.25" y="118.6" width="7.5" height="266.4" rx="3.75" ry="3.75" fill="url(#g2_19)"/>
<rect x="1460.05" y="118.6" width="7.5" height="277.4" rx="3.75" ry="3.75" fill="url(#g2_20)"/>
<rect x="1470.95" y="118.6" width="7.5" height="155.4" rx="3.75" ry="3.75" fill="#CDD1D6"/>
</g>
</g>
<g id="axes" shape-rendering="geometricPrecision">
<rect x="79.5" y="115.5" width="463" height="333" fill="none" stroke="#000" stroke-width="1.11"/>
<path d="M100.5 448.5v4.86M216.5 448.5v4.86M332.5 448.5v4.86M448.5 448.5v4.86M79.5 127.5h-4.86M79.5 194.5h-4.86M79.5 261.5h-4.86M79.5 329.5h-4.86M79.5 396.5h-4.86" stroke="#000" stroke-width="1.11" fill="none"/>
<rect x="557.5" y="115.5" width="462" height="333" fill="none" stroke="#000" stroke-width="1.11"/>
<path d="M578.5 448.5v4.86M694.5 448.5v4.86M810.5 448.5v4.86M926.5 448.5v4.86M557.5 127.5h-4.86M557.5 194.5h-4.86M557.5 261.5h-4.86M557.5 329.5h-4.86M557.5 396.5h-4.86" stroke="#000" stroke-width="1.11" fill="none"/>
<rect x="1034.5" y="115.5" width="462" height="333" fill="none" stroke="#000" stroke-width="1.11"/>
<path d="M1055.5 448.5v4.86M1171.5 448.5v4.86M1287.5 448.5v4.86M1403.5 448.5v4.86M1034.5 148.5h-4.86M1034.5 185.5h-4.86M1034.5 222.5h-4.86M1034.5 259.5h-4.86M1034.5 296.5h-4.86M1034.5 333.5h-4.86M1034.5 370.5h-4.86M1034.5 407.5h-4.86M1034.5 444.5h-4.86" stroke="#000" stroke-width="1.11" fill="none"/>
</g>
<g id="colorbars">
<rect x="314.5" y="521.5" width="470" height="24" fill="url(#hal)" stroke="#000" stroke-width="1.11"/>
<rect x="1034.5" y="521.5" width="462" height="23" fill="url(#dif)" stroke="#000" stroke-width="1.11"/>
<path d="M334.5 545.5v4.86M447.5 545.5v4.86M559.5 545.5v4.86M672.5 545.5v4.86M1064.5 544.5v4.86M1164.5 544.5v4.86M1265.5 544.5v4.86M1365.5 544.5v4.86M1465.5 544.5v4.86" stroke="#000" stroke-width="1.11" fill="none"/>
</g>
<g id="labels">
<text x="743" y="21.8" font-size="22.22" text-anchor="middle" xml:space="preserve">transect_7-2014-07-24: bias: 0.6  corr: 0.4  ioa: nan  mse: 0.7  ss: -0.9  rmse: 0.8</text>
<text x="750" y="48.5" font-size="22.22" text-anchor="middle">2014-07-24 lon: -153.30 lat: 59.35</text>
<text x="750" y="75.1" font-size="22.22" text-anchor="middle">Gwa: Salinity from CTD transect</text>
<text x="310.2" y="106.9" font-size="22.22" text-anchor="middle">Observation</text>
<text x="100.8" y="473.3" font-size="19.44" text-anchor="middle">0</text>
<text x="216.8" y="473.3" font-size="19.44" text-anchor="middle">20</text>
<text x="332.8" y="473.3" font-size="19.44" text-anchor="middle">40</text>
<text x="448.8" y="473.3" font-size="19.44" text-anchor="middle">60</text>
<text x="310.3" y="496.7" font-size="19.44" text-anchor="middle">along-transect distance [km]</text>
<text x="787.7" y="106.9" font-size="22.22" text-anchor="middle">CIOFS</text>
<text x="578.2" y="473.3" font-size="19.44" text-anchor="middle">0</text>
<text x="694.2" y="473.3" font-size="19.44" text-anchor="middle">20</text>
<text x="810.2" y="473.3" font-size="19.44" text-anchor="middle">40</text>
<text x="926.2" y="473.3" font-size="19.44" text-anchor="middle">60</text>
<text x="787.8" y="496.7" font-size="19.44" text-anchor="middle">along-transect distance [km]</text>
<text x="1264.7" y="106.9" font-size="22.22" text-anchor="middle">Obs - Model</text>
<text x="1055.2" y="473.3" font-size="19.44" text-anchor="middle">0</text>
<text x="1171.2" y="473.3" font-size="19.44" text-anchor="middle">20</text>
<text x="1287.2" y="473.3" font-size="19.44" text-anchor="middle">40</text>
<text x="1403.2" y="473.3" font-size="19.44" text-anchor="middle">60</text>
<text x="1264.8" y="496.7" font-size="19.44" text-anchor="middle">along-transect distance [km]</text>
<text x="69.9" y="134.2" font-size="19.44" text-anchor="end">0</text>
<text x="69.9" y="201.45" font-size="19.44" text-anchor="end">−20</text>
<text x="69.9" y="268.7" font-size="19.44" text-anchor="end">−40</text>
<text x="69.9" y="335.95" font-size="19.44" text-anchor="end">−60</text>
<text x="69.9" y="403.2" font-size="19.44" text-anchor="end">−80</text>
<text transform="translate(18.4 281.85) rotate(-90)" font-size="19.44" text-anchor="middle">Depth [m]</text>
<text x="334.4" y="570" font-size="19.44" text-anchor="middle">30.0</text>
<text x="447.1" y="570" font-size="19.44" text-anchor="middle">30.5</text>
<text x="559.8" y="570" font-size="19.44" text-anchor="middle">31.0</text>
<text x="672.5" y="570" font-size="19.44" text-anchor="middle">31.5</text>
<text x="1063.9" y="569.1" font-size="19.44" text-anchor="middle">−2</text>
<text x="1164" y="569.1" font-size="19.44" text-anchor="middle">−1</text>
<text x="1265.1" y="569.1" font-size="19.44" text-anchor="middle">0</text>
<text x="1365.4" y="569.1" font-size="19.44" text-anchor="middle">1</text>
<text x="1465.7" y="569.1" font-size="19.44" text-anchor="middle">2</text>
<text x="548.8" y="593.7" font-size="19.44" text-anchor="middle">Sea water salinity [psu]</text>
<text x="1265.1" y="593.8" font-size="19.44" text-anchor="middle">Sea water salinity [psu] difference</text>
</g>
</svg>
</body>
</html>
